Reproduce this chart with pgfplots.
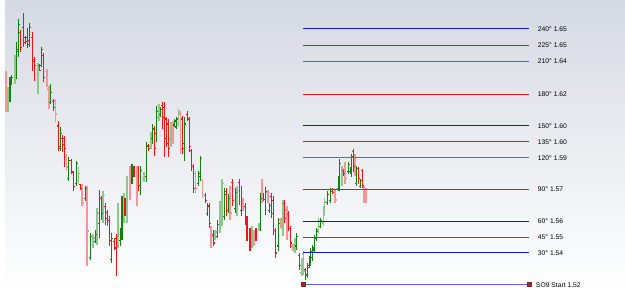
\documentclass[border=0pt]{standalone}
\usepackage{pgfplots}
\usepackage{pgfplotstable}
\pgfplotsset{compat=1.18}
\usepackage{fontspec}
\setmainfont{Liberation Sans}
\definecolor{bgtop}{RGB}{213,217,226}
\definecolor{bgmid}{RGB}{238,240,243}
\definecolor{cG}{RGB}{20,128,20}
\definecolor{cR}{RGB}{240,20,20}
\definecolor{cg}{RGB}{140,200,140}
\definecolor{cr}{RGB}{245,150,150}
\definecolor{lblue}{RGB}{20,20,215}
\definecolor{lblue2}{RGB}{95,95,240}
\definecolor{lred}{RGB}{225,25,25}

\pgfplotstableread{
x hi lo o c
5 78 103 100 84
7 76 86 84 78
12 42 80 65 52
14 19 57 50 25
25 23 47 45 28
37 47 68 66 50
46 85 105 103 93
56 128 152 150 135
64 158 182 180 162
72 162 188 185 165
81 187 203 200 190
86 235 262 260 238
91 232 245 243 236
95 192 240 225 200
107 235 265 262 240
116 230 248 242 235
118 198 242 238 203
128 165 185 180 170
137 167 197 195 172
143 143 183 178 148
149 125 145 140 130
153 107 143 135 112
157 108 118 115 110
171 120 128 126 122
173 118 130 128 120
181 118 162 150 125
195 172 187 185 175
197 157 182 178 160
204 205 218 215 207
214 222 240 238 226
221 190 222 218 196
225 196 215 212 200
232 190 215 210 194
238 188 218 212 192
258 195 233 228 200
263 189 217 210 193
267 205 215 212 207
276 220 253 248 225
294 235 252 248 238
305 265 280 277 270
307 258 270 268 262
308 250 268 265 254
310 247 263 260 250
312 237 255 252 240
314 230 243 240 233
318 220 230 228 222
325 193 207 204 196
328 190 205 202 193
336 177 193 190 180
337 160 193 185 165
346 163 175 173 166
348 168 175 173 170
349 155 178 175 158
354 167 188 185 170
358 180 190 188 182
}\tabG

\pgfplotstableread{
x hi lo o c
16 30 52 33 48
19 13 47 28 43
21 36 44 38 42
23 28 48 38 41
28 32 72 38 62
30 57 82 60 66
35 65 72 66 71
39 53 83 56 78
49 100 112 102 108
54 122 152 127 148
58 136 153 140 146
60 137 168 140 150
67 160 175 162 173
69 172 193 174 188
76 185 192 186 190
97 198 222 200 215
101 205 227 208 220
103 212 228 214 222
105 218 248 222 242
110 240 252 243 250
112 236 278 240 250
121 200 218 203 216
130 167 178 170 176
135 167 193 170 187
145 145 152 147 150
151 127 157 130 150
159 103 130 106 118
161 103 158 108 140
163 118 148 120 145
165 120 158 125 150
179 117 155 120 145
184 112 122 115 120
186 118 153 120 148
188 150 172 152 168
190 165 195 168 190
202 195 205 197 202
206 205 230 208 225
210 232 248 236 245
223 190 218 193 212
229 180 208 184 202
236 180 207 184 200
242 205 227 208 222
244 218 243 220 236
247 230 253 233 248
253 230 243 232 240
261 195 203 197 201
269 195 220 198 215
271 198 237 202 232
273 230 260 232 255
282 202 225 205 220
286 213 233 216 230
288 228 250 230 245
297 255 272 258 268
303 270 282 272 278
330 190 196 191 194
341 171 177 172 175
351 150 173 153 168
356 168 185 170 180
360 170 190 172 187
}\tabR

\pgfplotstableread{
x hi lo o c
3 88 113 110 90
10 55 85 82 60
33 64 95 75 67
74 168 185 182 175
89 236 250 245 240
93 210 247 240 215
99 193 225 220 197
114 205 250 245 212
120 195 225 222 200
123 177 225 200 182
140 173 183 180 176
147 133 150 147 137
155 105 122 118 108
167 123 148 140 128
175 110 128 125 113
212 232 242 240 234
217 203 235 230 208
219 180 228 222 185
234 188 218 214 192
249 228 250 245 232
256 225 233 230 227
280 202 238 230 206
292 240 255 252 244
299 260 278 275 265
316 220 235 232 223
321 208 228 225 212
322 200 218 215 204
340 167 187 184 170
}\tabg

\pgfplotstableread{
x hi lo o c
1 72 113 74 105
42 70 88 72 85
44 87 110 90 100
51 100 123 102 115
62 155 172 158 168
78 185 208 187 205
83 187 268 190 233
126 167 202 170 192
133 167 208 170 200
169 122 145 125 140
177 112 155 115 150
192 172 195 175 190
199 180 200 182 196
208 228 250 230 238
227 188 222 192 215
240 200 213 203 210
251 232 248 236 245
259 180 205 183 200
265 192 205 194 202
278 220 230 222 228
284 208 242 212 236
290 246 253 248 251
301 253 277 256 273
333 192 205 194 202
343 163 185 166 180
353 155 177 158 170
362 188 205 190 200
364 190 205 193 198
}\tabr

% OHLC bar: high-low line, open tick left, close tick right
\newcommand{\ohlc}[3]{%
  \addplot[draw=none, mark=none, forget plot,
    error bars/.cd, y dir=plus, y explicit, error mark=none,
    error bar style={color=#2, line width=#3}]
    table[x=x, y=hi, y error expr=\thisrow{lo}-\thisrow{hi}] {#1};
  \addplot[draw=none, mark=none, forget plot,
    error bars/.cd, x dir=minus, x fixed=1.4, error mark=none,
    error bar style={color=#2, line width=#3}]
    table[x=x, y=o] {#1};
  \addplot[draw=none, mark=none, forget plot,
    error bars/.cd, x dir=plus, x fixed=1.4, error mark=none,
    error bar style={color=#2, line width=#3}]
    table[x=x, y=c] {#1};
}

\begin{document}
\begin{tikzpicture}
\begin{axis}[
  scale only axis, width=450pt, height=210.96pt,
  xmin=0, xmax=625, ymin=0, ymax=293, y dir=reverse,
  axis lines=none, ticks=none,
  axis background/.style={top color=bgtop, middle color=bgmid, bottom color=white},
  clip=false,
]
\ohlc{\tabg}{cg}{1.3pt}
\ohlc{\tabr}{cr}{1.3pt}
\ohlc{\tabG}{cG}{0.8pt}
\ohlc{\tabR}{cR}{0.8pt}

% level lines
\addplot[lblue, line width=0.72pt] coordinates {(300,29) (528,29)};
\addplot[lred, line width=0.72pt] coordinates {(300,46) (528,46)};
\addplot[lblue2, line width=0.9pt] coordinates {(300,62) (528,62)};
\addplot[lred, line width=0.72pt] coordinates {(300,95) (528,95)};
\addplot[lblue, line width=0.72pt] coordinates {(300,127) (528,127)};
\addplot[lred, line width=0.72pt] coordinates {(300,143) (528,143)};
\addplot[lblue2, line width=0.9pt] coordinates {(300,159) (528,159)};
\addplot[lred, line width=0.72pt] coordinates {(300,191) (528,191)};
\addplot[lblue, line width=0.72pt] coordinates {(300,223) (528,223)};
\addplot[lred, line width=0.72pt] coordinates {(300,239) (528,239)};
\addplot[lblue, line width=0.72pt] coordinates {(300,255) (528,255)};
\addplot[lblue2, line width=0.9pt] coordinates {(300,287) (528,287)};
\addplot[only marks, mark=square*, mark size=1.5pt, mark options={fill=red, draw=black!75, line width=0.5pt}] coordinates {(301,287) (529,287)};

\begin{scope}[every node/.style={anchor=west, inner sep=0pt, font=\fontsize{4.9pt}{5.5pt}\selectfont}]
\node at (axis cs:537,29) {240° 1.65};
\node at (axis cs:537,46) {225° 1.65};
\node at (axis cs:537,62) {210° 1.64};
\node at (axis cs:537,95) {180° 1.62};
\node at (axis cs:537,127) {150° 1.60};
\node at (axis cs:537,143) {135° 1.60};
\node at (axis cs:537,159) {120° 1.59};
\node at (axis cs:537,191) {90° 1.57};
\node at (axis cs:537,223) {60° 1.56};
\node at (axis cs:537,239) {45° 1.55};
\node at (axis cs:537,255) {30° 1.54};
\node at (axis cs:535,287) {SO9 Start 1.52};
\end{scope}
\end{axis}
\end{tikzpicture}
\end{document}
